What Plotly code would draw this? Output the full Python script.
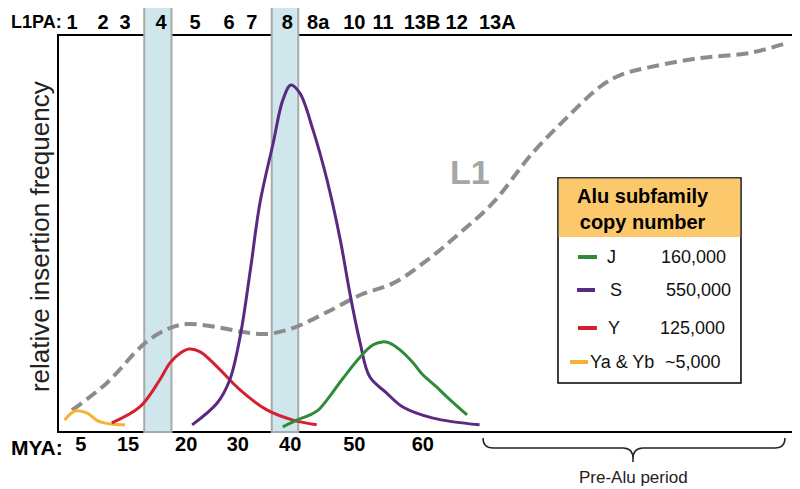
import plotly.graph_objects as go

# schematic position along the time axis (0-100 across the box) and relative frequency (0-100)
l1_x = [1.9, 6.6, 11.8, 15.2, 17.6, 21.6, 25.1, 28.4, 31.9, 36.5, 41.0, 45.5, 50.1, 54.5,
        59.0, 64.4, 69.1, 73.5, 76.3, 80.3, 87.1, 93.9, 98.4]
l1_y = [5.5, 12.3, 22.4, 26.2, 27.2, 26.4, 25.2, 24.7, 26.2, 30.2, 34.5, 37.5, 43.3, 50.1,
        57.7, 70.3, 79.3, 86.9, 89.9, 91.9, 94.2, 95.5, 97.7]

yayb_x = [0.9, 2.3, 3.9, 5.4, 7.1, 9.1]
yayb_y = [3.0, 5.3, 4.8, 2.8, 2.0, 1.8]

y_x = [7.3, 11.1, 13.8, 15.2, 16.6, 17.8, 19.3, 21.6, 24.7, 28.4, 31.9, 35.1]
y_y = [2.3, 6.3, 13.1, 17.4, 19.9, 20.9, 20.2, 16.4, 10.6, 5.5, 3.0, 1.8]

s_x = [18.2, 21.6, 23.3, 24.7, 26.1, 27.4, 29.2, 30.5, 31.6, 32.8, 34.6, 36.5, 38.3, 39.6,
       41.0, 42.3, 44.6, 46.8, 50.9, 57.2]
s_y = [1.8, 7.3, 13.1, 23.9, 40.8, 57.7, 72.8, 83.6, 87.4, 85.4, 76.1, 63.5, 48.4, 35.0,
       22.4, 13.9, 9.8, 6.3, 3.5, 1.8]

j_x = [30.5, 32.4, 34.2, 35.3, 36.5, 38.7, 41.0, 42.7, 44.0, 45.0, 46.4, 48.2, 49.5, 51.4,
       52.8, 55.5]
j_y = [1.3, 3.0, 4.3, 5.5, 8.1, 13.6, 18.9, 21.9, 22.7, 22.4, 20.7, 17.4, 14.4, 11.3, 8.8, 4.3]

# L1PA subfamily labels along the top, MYA labels along the bottom
l1pa_labels = ['1', '2', '3', '4', '5', '6', '7', '8', '8a', '10', '11', '13B', '12', '13A']
l1pa_pos = [1.9, 6.1, 9.1, 14.0, 18.6, 23.2, 26.3, 31.1, 35.3, 40.2, 44.1, 49.4, 54.1, 59.6]
mya_labels = ['5', '15', '20', '30', '40', '50', '60']
mya_pos = [3.1, 9.5, 17.4, 24.4, 31.5, 40.2, 49.5]

# highlighted L1PA4 and L1PA8 windows
bands = [(11.7, 15.4), (29.0, 32.6)]

# legend content
subfamilies = ['J', 'S', 'Y', 'Ya & Yb']
copy_numbers = ['160,000', '550,000', '125,000', '~5,000']

FONT = 'Liberation Sans'
GRAY = '#8c8c8c'
colors = {'J': '#2f8a3b', 'S': '#5a2a82', 'Y': '#d7202f', 'Ya & Yb': '#f5b335'}

fig = go.Figure()

fig.add_trace(go.Scatter(x=l1_x, y=l1_y, mode='lines', line_shape='spline',
                         line=dict(color=GRAY, width=4, dash='12px,6px')))
fig.add_trace(go.Scatter(x=yayb_x, y=yayb_y, mode='lines', line_shape='spline',
                         line=dict(color=colors['Ya & Yb'], width=3)))
fig.add_trace(go.Scatter(x=y_x, y=y_y, mode='lines', line_shape='spline',
                         line=dict(color=colors['Y'], width=3)))
fig.add_trace(go.Scatter(x=s_x, y=s_y, mode='lines', line_shape='spline',
                         line=dict(color=colors['S'], width=3)))
fig.add_trace(go.Scatter(x=j_x, y=j_y, mode='lines', line_shape='spline',
                         line=dict(color=colors['J'], width=3)))
# keeps the top axis alive
fig.add_trace(go.Scatter(x=[None], y=[None], xaxis='x2', hoverinfo='skip'))

shapes = [dict(type='rect', xref='paper', yref='paper', x0=0, x1=1, y0=0, y1=1,
               line=dict(color='black', width=2), layer='below')]
for x0, x1 in bands:
    shapes.append(dict(type='rect', xref='x', yref='paper', x0=x0, x1=x1, y0=0, y1=1.08,
                       fillcolor='#cfe7ec', line=dict(color='#a9a9a9', width=2),
                       layer='below'))

# legend box
shapes.append(dict(type='rect', xref='paper', yref='paper', x0=0.6784, x1=0.9267,
                   y0=0.1234, y1=0.6398, fillcolor='white',
                   line=dict(color='black', width=1.5)))
shapes.append(dict(type='rect', xref='paper', yref='paper', x0=0.6794, x1=0.9257,
                   y0=0.4912, y1=0.6388, fillcolor='#fbc96b', line=dict(width=0)))

row_y = [0.4408, 0.3577, 0.2620, 0.1763]
swatch_x = [(0.7056, 0.7313), (0.7042, 0.7286), (0.7056, 0.7313), (0.6947, 0.7191)]
label_x = [0.7422, 0.7463, 0.7436, 0.7191]
number_x = [0.9091, 0.9159, 0.9077, 0.9023]


def note(text, x, y, size, color='black', bold=False, **kw):
    f = dict(size=size, color=color)
    if bold:
        f['weight'] = 'bold'
    d = dict(text=text, x=x, y=y, xref='paper', yref='paper', showarrow=False,
             xanchor='center', yanchor='middle', font=f)
    d.update(kw)
    return d


annotations = []
for name, num, yy, (sx0, sx1), lx, nx in zip(subfamilies, copy_numbers, row_y, swatch_x,
                                             label_x, number_x):
    shapes.append(dict(type='line', xref='paper', yref='paper', x0=sx0, x1=sx1, y0=yy, y1=yy,
                       line=dict(color=colors[name], width=4)))
    annotations.append(note(name, lx, yy, 18, '#111', xanchor='left'))
    annotations.append(note(num, nx, yy, 18, '#111', xanchor='right'))

annotations.append(note('Alu subfamily<br>copy number', 0.7938, 0.5605, 20, bold=True))

# Pre-Alu bracket
shapes.append(dict(type='path', xref='paper', yref='paper',
                   path='M 0.5767,-0.0151 Q 0.5767,-0.0403 0.5903,-0.0403 L 0.7666,-0.0403 '
                        'Q 0.7802,-0.0403 0.7802,-0.0680 L 0.7802,-0.0756 '
                        'M 0.7802,-0.0680 Q 0.7802,-0.0403 0.7938,-0.0403 L 0.9728,-0.0403 '
                        'Q 0.9864,-0.0403 0.9864,-0.0151',
                   line=dict(color='#222', width=1.5)))
annotations.append(note('Pre-Alu period', 0.7802, -0.1134, 17, '#222'))

annotations.append(note('L1', 0.559, 0.655, 34, '#a6a6a6', bold=True))
annotations.append(note('L1PA:', -0.0665, 1.0327, 18, bold=True, xanchor='left'))
annotations.append(note('MYA:', -0.0665, -0.0403, 21, bold=True, xanchor='left'))
annotations.append(note('relative insertion frequency', -0.0244, 0.491, 26, '#222',
                        textangle=-90))

fig.update_layout(
    width=792, height=481,
    margin=dict(l=50, r=5, t=27, b=57, autoexpand=False),
    paper_bgcolor='white', plot_bgcolor='white',
    showlegend=False,
    font=dict(family=FONT),
    xaxis=dict(range=[0, 100], tickvals=mya_pos, ticktext=mya_labels, showgrid=False,
               zeroline=False, showline=False, ticks='', ticklabelstandoff=-2,
               automargin=False,
               tickfont=dict(size=20, color='black', weight='bold')),
    xaxis2=dict(range=[0, 100], overlaying='x', side='top', anchor='y',
                tickvals=l1pa_pos, ticktext=l1pa_labels, showgrid=False, zeroline=False,
                showline=False, ticks='', ticklabelstandoff=1, automargin=False,
                tickfont=dict(size=20, color='black', weight='bold')),
    yaxis=dict(range=[0, 100], showticklabels=False, showgrid=False, zeroline=False,
               showline=False, ticks='', automargin=False),
    shapes=shapes,
    annotations=annotations,
)

fig.write_html("out.html")
